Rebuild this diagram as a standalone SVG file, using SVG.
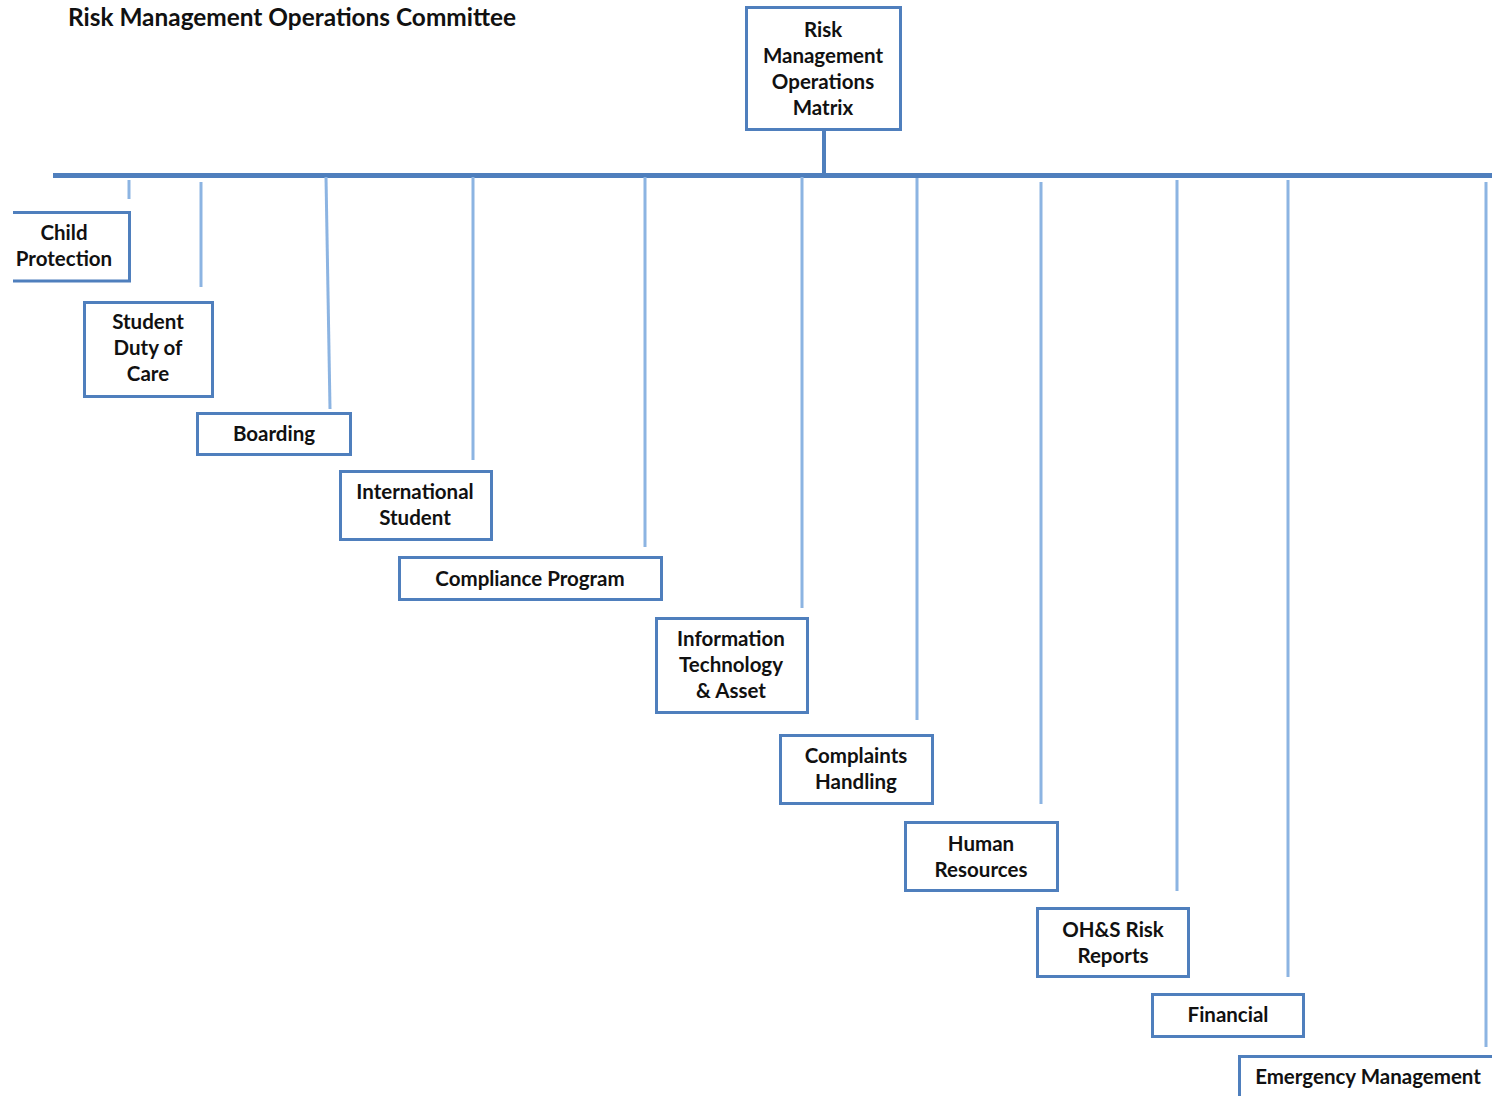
<svg xmlns="http://www.w3.org/2000/svg" width="1492" height="1096" viewBox="0 0 1492 1096">
<style>
.box{fill:#fff;stroke:#4f7fbd;stroke-width:3}
.t{font-family:Lato,"Open Sans","Liberation Sans",sans-serif;font-weight:bold;font-size:20.5px;fill:#111;text-anchor:middle}
.title{font-family:Lato,"Open Sans","Liberation Sans",sans-serif;font-weight:bold;font-size:24.4px;fill:#111}
.c{stroke:#8cb4e2;stroke-width:3;fill:none}
.main{stroke:#4f7fbd;fill:none}
</style>
<rect width="1492" height="1096" fill="#fff"/>
<text class="title" x="68" y="26">Risk Management Operations Committee</text>
<g id="connectors">
<line class="main" x1="53" y1="175.5" x2="1492" y2="175.5" stroke-width="5"/>
<line class="main" x1="824" y1="130" x2="824" y2="175" stroke-width="4"/>
<line class="c" x1="129" y1="180" x2="129" y2="199"/>
<line class="c" x1="201" y1="182" x2="201" y2="287"/>
<line class="c" x1="326" y1="177" x2="330" y2="409"/>
<line class="c" x1="473" y1="177" x2="473" y2="460"/>
<line class="c" x1="645" y1="177" x2="645" y2="547"/>
<line class="c" x1="802" y1="177" x2="802" y2="608"/>
<line class="c" x1="917" y1="178" x2="917" y2="720"/>
<line class="c" x1="1041" y1="182" x2="1041" y2="804"/>
<line class="c" x1="1177" y1="180" x2="1177" y2="891"/>
<line class="c" x1="1288" y1="180" x2="1288" y2="977"/>
<line class="c" x1="1486" y1="182" x2="1486" y2="1047"/>
</g>
<g id="matrix">
<rect class="box" x="746.5" y="7.5" width="154" height="122"/>
<text class="t" x="823" y="37">Risk</text>
<text class="t" x="823" y="63">Management</text>
<text class="t" x="823" y="89">Operations</text>
<text class="t" x="823" y="115">Matrix</text>
</g>
<g id="child-protection">
<path class="box" d="M13,212.5 H129.5 V281 H13"/>
<text class="t" x="64" y="240">Child</text>
<text class="t" x="64" y="266">Protection</text>
</g>
<g id="student-duty">
<rect class="box" x="84.5" y="302.5" width="128" height="94"/>
<text class="t" x="148" y="329">Student</text>
<text class="t" x="148" y="355">Duty of</text>
<text class="t" x="148" y="381">Care</text>
</g>
<g id="boarding">
<rect class="box" x="197.5" y="413.5" width="153" height="41"/>
<text class="t" x="274" y="441">Boarding</text>
</g>
<g id="international">
<rect class="box" x="340.5" y="471.5" width="151" height="68"/>
<text class="t" x="415" y="499">International</text>
<text class="t" x="415" y="525">Student</text>
</g>
<g id="compliance">
<rect class="box" x="399.5" y="557.5" width="262" height="42"/>
<text class="t" x="530" y="586">Compliance Program</text>
</g>
<g id="it-asset">
<rect class="box" x="656.5" y="618.5" width="151" height="94"/>
<text class="t" x="731" y="646">Information</text>
<text class="t" x="731" y="672">Technology</text>
<text class="t" x="731" y="698">&amp; Asset</text>
</g>
<g id="complaints">
<rect class="box" x="780.5" y="735.5" width="152" height="68"/>
<text class="t" x="856" y="763">Complaints</text>
<text class="t" x="856" y="789">Handling</text>
</g>
<g id="hr">
<rect class="box" x="905.5" y="822.5" width="152" height="68"/>
<text class="t" x="981" y="851">Human</text>
<text class="t" x="981" y="877">Resources</text>
</g>
<g id="ohs">
<rect class="box" x="1037.5" y="908.5" width="151" height="68"/>
<text class="t" x="1113" y="937">OH&amp;S Risk</text>
<text class="t" x="1113" y="963">Reports</text>
</g>
<g id="financial">
<rect class="box" x="1152.5" y="994.5" width="151" height="42"/>
<text class="t" x="1228" y="1022">Financial</text>
</g>
<g id="emergency">
<path class="box" d="M1239.5,1098 V1056.5 H1494"/>
<text class="t" x="1368" y="1084">Emergency Management</text>
</g>
</svg>
